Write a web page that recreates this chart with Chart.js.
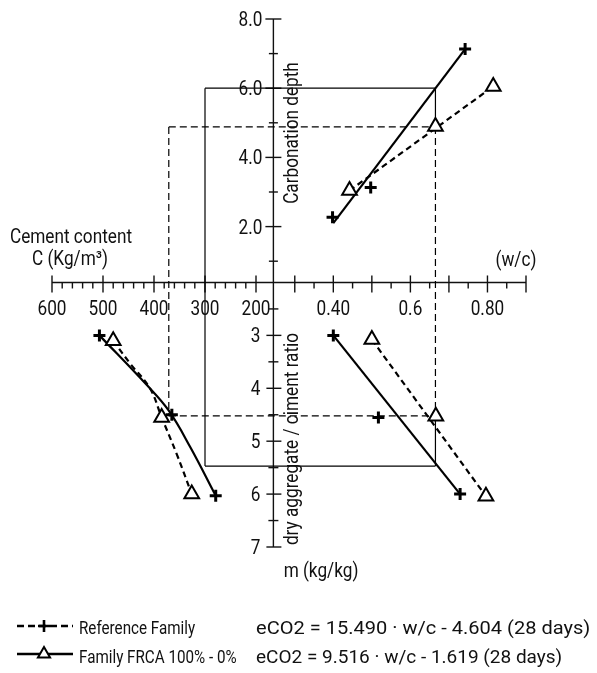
<!DOCTYPE html>
<html>
<head>
<meta charset="utf-8">
<script src="https://cdn.jsdelivr.net/npm/chart.js@4.4.1/dist/chart.umd.min.js"></script>
<style>
  html, body { margin: 0; padding: 0; background: #fff; }
  #wrap { width: 597px; height: 673px; }
</style>
</head>
<body>
<div id="wrap"><canvas id="nomograma" width="597" height="673"></canvas></div>
<script>
'use strict';

// etiquetas de los ejes
const cementTicks = [600, 500, 400, 300, 200];
const wcTicks = [0.40, 0.60, 0.80];
const wcTickLabels = ['0.40', '0.6', '0.80'];
const depthTicks = [2, 4, 6, 8];
const depthTickLabels = ['2.0', '4.0', '6.0', '8.0'];
const ratioTicks = [3, 4, 5, 6, 7];

// arriba derecha: w/c -> carbonation depth
const wcCross = [0.398, 0.497, 0.742];
const depthCross = [2.27, 3.13, 7.13];
const wcTri = [0.442, 0.665, 0.815];
const depthTri = [3.04, 4.89, 6.05];
const fitSolidTopWc = [0.40, 0.742];
const fitSolidTopD = [2.10, 7.13];
const fitDashTopWc = [0.442, 0.815];
const fitDashTopD = [3.04, 6.05];

// abajo derecha: w/c -> m
const wcCross2 = [0.40, 0.517, 0.729];
const ratioCross2 = [3.0, 4.55, 6.0];
const wcTri2 = [0.50, 0.666, 0.796];
const ratioTri2 = [3.08, 4.53, 6.04];
const fitSolidRightWc = [0.40, 0.729];
const fitSolidRightM = [3.0, 6.0];
const fitDashRightWc = [0.50, 0.796];
const fitDashRightM = [3.08, 6.04];

// abajo izquierda: C -> m
const cementCross = [507, 365, 279];
const ratioCross3 = [3.0, 4.5, 6.03];
const cementTri = [480, 385, 326];
const ratioTri3 = [3.10, 4.55, 6.0];
const curveSolidC = [507, 414, 372, 329, 279];
const curveSolidM = [3.0, 3.94, 4.41, 5.11, 6.03];
const curveDashC = [480, 447, 408, 385, 356, 326];
const curveDashM = [3.10, 3.53, 4.0, 4.55, 5.23, 6.0];

// lineas de lectura: [C, w/c, depth, m]
const guideSolid = [300, 0.665, 6.0, 5.47];
const guideDash = [371, 0.665, 4.88, 4.52];

// leyenda
const legendNames = ['Reference Family', 'Family FRCA 100% - 0%'];
const legendEquations = ['eCO2 = 15.490 · w/c - 4.604 (28 days)', 'eCO2 = 9.516 · w/c - 1.619 (28 days)'];

// cruce de ejes
const AXIS_WC = 0.2445;
const AXIS_M = 2;

const FONT = 'Roboto';
const INK = '#111';

let pts = (xs, ys) => xs.map((x, i) => ({ x: x, y: ys[i] }));

let lineDs = (xs, ys, xId, yId, dashed, tension) => ({
    data: pts(xs, ys), xAxisID: xId, yAxisID: yId, showLine: true,
    borderColor: '#000', borderWidth: 2.2, borderDash: dashed ? [6, 4] : [],
    pointRadius: 0, tension: tension || 0, fill: false, order: 2
});
let crossDs = (xs, ys, xId, yId) => ({
    data: pts(xs, ys), xAxisID: xId, yAxisID: yId, showLine: false,
    pointStyle: 'cross', pointRadius: 6, pointBorderWidth: 3,
    pointBorderColor: '#000', pointBackgroundColor: '#000', order: 1
});
let triDs = (xs, ys, xId, yId) => ({
    data: pts(xs, ys), xAxisID: xId, yAxisID: yId, showLine: false,
    pointStyle: 'triangle', pointRadius: 8.5, pointBorderWidth: 2,
    pointBorderColor: '#000', pointBackgroundColor: '#fff', order: 0
});

let texto = (ctx, s, x, y, size, align, sx, rot) => {
    ctx.save();
    ctx.translate(x, y);
    if (rot) ctx.rotate(rot);
    ctx.scale(sx, 1);
    ctx.font = size + 'px ' + FONT;
    ctx.fillStyle = INK;
    ctx.textAlign = align;
    ctx.textBaseline = 'alphabetic';
    ctx.fillText(s, 0, 0);
    ctx.restore();
}

let linea = (ctx, x1, y1, x2, y2) => {
    ctx.beginPath();
    ctx.moveTo(x1, y1);
    ctx.lineTo(x2, y2);
    ctx.stroke();
}

// ejes, ticks, titulos y lineas guia
const ejes = {
    id: 'ejes',
    beforeDatasetsDraw(chart) {
        const ctx = chart.ctx;
        const { xC, xW, yD, yM } = chart.scales;
        const ax = xW.getPixelForValue(AXIS_WC);
        const ay = yM.getPixelForValue(AXIS_M);

        ctx.save();
        ctx.strokeStyle = INK;
        ctx.lineWidth = 1.4;

        // lineas principales
        linea(ctx, xC.getPixelForValue(600), ay, xW.getPixelForValue(0.9), ay);
        linea(ctx, ax, yD.getPixelForValue(8), ax, yM.getPixelForValue(7));

        // ticks cemento
        for (let c = 200; c <= 600; c += 20) {
            let x = xC.getPixelForValue(c);
            if (c % 100 == 0) linea(ctx, x, ay - 7, x, ay + 10);
            else linea(ctx, x, ay, x, ay + 6);
        }
        // ticks w/c
        for (let i = 0; i <= 12; i++) {
            let w = 0.30 + i * 0.05;
            let x = xW.getPixelForValue(w);
            if (i % 2 == 0) linea(ctx, x, ay - 7, x, ay + 10);
            else linea(ctx, x, ay, x, ay + 6);
        }
        // ticks profundidad
        for (let d = 1; d <= 8; d++) {
            let y = yD.getPixelForValue(d);
            if (d % 2 == 0) linea(ctx, ax - 8, y, ax + 8, y);
            else linea(ctx, ax - 4.5, y, ax + 4.5, y);
        }
        // ticks m
        for (let m = 2.5; m <= 7; m += 0.5) {
            let y = yM.getPixelForValue(m);
            if (m % 1 == 0) linea(ctx, ax - 7, y, ax + 8, y);
            else linea(ctx, ax - 5, y, ax + 5, y);
        }

        // lineas guia
        ctx.lineWidth = 1.2;
        ctx.strokeStyle = '#000';
        const gs = guideSolid, gd = guideDash;
        linea(ctx, xC.getPixelForValue(gs[0]), yD.getPixelForValue(gs[2]), xW.getPixelForValue(gs[1]), yD.getPixelForValue(gs[2]));
        linea(ctx, xC.getPixelForValue(gs[0]), yD.getPixelForValue(gs[2]), xC.getPixelForValue(gs[0]), yM.getPixelForValue(gs[3]));
        linea(ctx, xC.getPixelForValue(gs[0]), yM.getPixelForValue(gs[3]), xW.getPixelForValue(gs[1]), yM.getPixelForValue(gs[3]));
        linea(ctx, xW.getPixelForValue(gs[1]), yD.getPixelForValue(gs[2]), xW.getPixelForValue(gs[1]), yD.getPixelForValue(gd[2]));
        linea(ctx, xW.getPixelForValue(gs[1]), yM.getPixelForValue(gd[3]), xW.getPixelForValue(gs[1]), yM.getPixelForValue(gs[3]));

        ctx.setLineDash([7, 4]);
        linea(ctx, xC.getPixelForValue(gd[0]), yD.getPixelForValue(gd[2]), xW.getPixelForValue(gd[1]), yD.getPixelForValue(gd[2]));
        linea(ctx, xW.getPixelForValue(gd[1]), yD.getPixelForValue(gd[2]), xW.getPixelForValue(gd[1]), yM.getPixelForValue(gd[3]));
        linea(ctx, xC.getPixelForValue(gd[0]), yM.getPixelForValue(gd[3]), xW.getPixelForValue(gd[1]), yM.getPixelForValue(gd[3]));
        linea(ctx, xC.getPixelForValue(gd[0]), yD.getPixelForValue(gd[2]), xC.getPixelForValue(gd[0]), yM.getPixelForValue(gd[3]));
        ctx.restore();

        // etiquetas
        for (let c of cementTicks) texto(ctx, String(c), xC.getPixelForValue(c), 315, 20, 'center', 0.86);
        for (let i = 0; i < wcTicks.length; i++) texto(ctx, wcTickLabels[i], xW.getPixelForValue(wcTicks[i]), 315, 20, 'center', 0.86);
        for (let i = 0; i < depthTicks.length; i++) texto(ctx, depthTickLabels[i], ax - 11, yD.getPixelForValue(depthTicks[i]) + 7, 20, 'right', 0.86);
        for (let m of ratioTicks) texto(ctx, String(m), ax - 13, yM.getPixelForValue(m) + 7, 20, 'right', 0.86);

        // titulos
        texto(ctx, 'Cement content', 71, 243, 20, 'center', 0.86);
        texto(ctx, 'C (Kg/m³)', 70, 265, 20, 'center', 0.86);
        texto(ctx, '(w/c)', 516, 266, 20, 'center', 0.86);
        texto(ctx, 'Carbonation depth', 298, 133, 20, 'center', 0.86, -Math.PI / 2);
        texto(ctx, 'dry aggregate / ciment ratio', 298, 439, 20, 'center', 0.86, -Math.PI / 2);
        texto(ctx, 'm (kg/kg)', 321, 577, 20, 'center', 0.86);
    }
};

// leyenda
const leyenda = {
    id: 'leyenda',
    afterDraw(chart) {
        const ctx = chart.ctx;
        ctx.save();
        ctx.strokeStyle = '#000';
        ctx.lineWidth = 2.6;
        ctx.setLineDash([7, 4]);
        linea(ctx, 17, 626, 73, 626);
        ctx.setLineDash([]);
        linea(ctx, 17, 654, 73, 654);
        ctx.fillStyle = '#000';
        Chart.helpers.drawPoint(ctx, { pointStyle: 'cross', radius: 6, borderWidth: 3, rotation: 0 }, 44, 626);
        ctx.fillStyle = '#fff';
        ctx.lineWidth = 2;
        Chart.helpers.drawPoint(ctx, { pointStyle: 'triangle', radius: 7, borderWidth: 2, rotation: 0 }, 44, 654);
        ctx.restore();

        texto(ctx, legendNames[0], 79, 634, 19, 'left', 0.8);
        texto(ctx, legendNames[1], 79, 663, 19, 'left', 0.8);
        texto(ctx, legendEquations[0], 256, 634, 19, 'left', 1.055);
        texto(ctx, legendEquations[1], 256, 663, 19, 'left', 1.0);
    }
};

new Chart(document.getElementById('nomograma'), {
    type: 'scatter',
    data: {
        datasets: [
            lineDs(fitSolidTopWc, fitSolidTopD, 'xW', 'yD', false),
            lineDs(fitDashTopWc, fitDashTopD, 'xW', 'yD', true),
            lineDs(fitSolidRightWc, fitSolidRightM, 'xW', 'yM', false),
            lineDs(fitDashRightWc, fitDashRightM, 'xW', 'yM', true),
            lineDs(curveSolidC, curveSolidM, 'xC', 'yM', false, 0.4),
            lineDs(curveDashC, curveDashM, 'xC', 'yM', true, 0.4),
            crossDs(wcCross, depthCross, 'xW', 'yD'),
            crossDs(wcCross2, ratioCross2, 'xW', 'yM'),
            crossDs(cementCross, ratioCross3, 'xC', 'yM'),
            triDs(wcTri, depthTri, 'xW', 'yD'),
            triDs(wcTri2, ratioTri2, 'xW', 'yM'),
            triDs(cementTri, ratioTri3, 'xC', 'yM')
        ]
    },
    options: {
        responsive: false,
        animation: false,
        events: [],
        layout: { padding: { left: 52, right: 71, top: 19, bottom: 126 } },
        plugins: { legend: { display: false }, tooltip: { enabled: false } },
        scales: {
            xC: { type: 'linear', axis: 'x', reverse: true, min: -329.4, max: 600, display: false },
            xW: { type: 'linear', axis: 'x', min: -0.33, max: 0.90, display: false },
            yD: { type: 'linear', axis: 'y', min: -7.26, max: 8, display: false },
            yM: { type: 'linear', axis: 'y', reverse: true, min: -2.98, max: 7, display: false }
        }
    },
    plugins: [ejes, leyenda]
});
</script>
</body>
</html>
